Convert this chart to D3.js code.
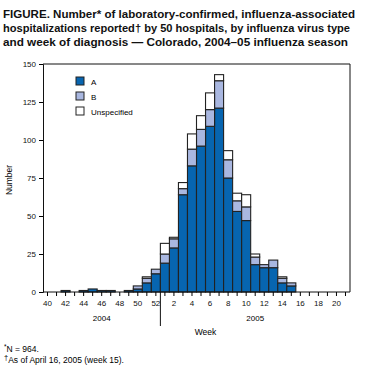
<!DOCTYPE html>
<html><head><meta charset="utf-8">
<script src="https://cdn.jsdelivr.net/npm/d3@7"></script>
<style>body{margin:0;background:#fff}svg{display:block}text{font-family:"Liberation Sans",Arial,sans-serif}</style>
</head><body><svg id="c" width="365" height="382"></svg>
<script>
const weeks = [40,41,42,43,44,45,46,47,48,49,50,51,52,1,2,3,4,5,6,7,8,9,10,11,12,13,14,15,16,17,18,19,20,21];
const typeA = [0,0,1,0,1,2,1,1,0,1,2,6,12,19,29,64,83,96,109,121,75,53,47,18,16,16,6,4,0,0,0,0,0,0];
const typeB = [0,0,0,0,0,0,0,0,0,0,2,3,3,6,6,4,11,11,11,18,12,7,9,5,2,5,3,2,0,0,0,0,0,0];
const typeU = [0,0,0,0,0,0,0,0,0,0,0,1,0,7,1,4,10,9,11,4,6,5,8,2,0,0,1,0,0,0,0,0,0,0];
const seriesNames = ["A","B","Unspecified"];
const colors = ["#0765b0","#a9b7e0","#ffffff"];
const yTicks = [0,25,50,75,100,125,150];
const xLabelWeeks = [40,42,44,46,48,50,52,2,4,6,8,10,12,14,16,18,20];
const titleLines = ["FIGURE. Number* of laboratory-confirmed, influenza-associated",
  "hospitalizations reported\u2020 by 50 hospitals, by influenza virus type",
  "and week of diagnosis \u2014 Colorado, 2004\u201305 influenza season"];

const svg = d3.select("#c");
const L = 43, R = 350, T = 64, B = 292;
const keys = weeks.map((w,i)=>i);
const x = d3.scaleBand().domain(keys).range([L,R]).padding(0);
const y = d3.scaleLinear().domain([0,150]).range([B,T]);

// title
const tl = svg.append("g");
titleLines.forEach((t,i)=>{
  tl.append("text").attr("x",3).attr("y",18+i*14).attr("font-size",11.5).attr("font-weight","bold")
    .attr("textLength", [352,347,345][i]).attr("lengthAdjust","spacingAndGlyphs").attr("fill","#111").text(t);
});

// data stacking
const rows = weeks.map((w,i)=>({i, A:typeA[i], B:typeB[i], Unspecified:typeU[i]}));
const stack = d3.stack().keys(seriesNames)(rows);
stack.forEach((s,si)=>{
  svg.append("g").selectAll("rect").data(s.filter(d=>d[1]-d[0]>0)).join("rect")
    .attr("x",d=>x(d.data.i)).attr("width",x.bandwidth())
    .attr("y",d=>y(d[1])).attr("height",d=>y(d[0])-y(d[1]))
    .attr("fill",colors[si]).attr("stroke","#222").attr("stroke-width",1.1);
});

// frame
svg.append("path").attr("d",`M${L},${T}H${R}V${B}`).attr("fill","none").attr("stroke","#111").attr("stroke-width",1);

// y axis
const ya = svg.append("g").attr("transform",`translate(${L},0)`)
  .call(d3.axisLeft(y).tickValues(yTicks).tickSize(4).tickPadding(3));
ya.select(".domain").attr("stroke","#111");
ya.selectAll("text").attr("font-size",8).attr("fill","#111");

// x axis
const xa = svg.append("g").attr("transform",`translate(0,${B})`)
  .call(d3.axisBottom(x).tickSize(4).tickPadding(4).tickFormat(i=> xLabelWeeks.includes(weeks[i]) ? weeks[i] : ""));
xa.select(".domain").attr("stroke","#111").attr("d",`M${L},0H${R}`);
xa.selectAll("text").attr("font-size",8).attr("fill","#111");

// year separator
const sepX = x(weeks.indexOf(1));
svg.append("line").attr("x1",sepX).attr("x2",sepX).attr("y1",B).attr("y2",326).attr("stroke","#111");
svg.append("text").attr("x",(x(0)+sepX)/2).attr("y",321).attr("text-anchor","middle").attr("font-size",8).text("2004");
svg.append("text").attr("x",(sepX+R)/2).attr("y",321).attr("text-anchor","middle").attr("font-size",8).text("2005");
svg.append("text").attr("x",(L+R)/2+9).attr("y",335).attr("text-anchor","middle").attr("font-size",8.5).text("Week");
svg.append("text").attr("transform",`translate(12,${(T+B)/2+2}) rotate(-90)`).attr("text-anchor","middle").attr("font-size",8.5).text("Number");

// legend
const lg = svg.append("g").attr("transform","translate(76,77)");
seriesNames.forEach((n,i)=>{
  lg.append("rect").attr("x",0).attr("y",i*15).attr("width",8).attr("height",8).attr("fill",colors[i]).attr("stroke","#222");
  lg.append("text").attr("x",15).attr("y",i*15+7.5).attr("font-size",8).text(n);
});

// footnotes
const fn = svg.append("g");
const f1 = fn.append("text").attr("x",4).attr("y",352).attr("font-size",8.5);
f1.append("tspan").attr("font-size",6.5).attr("dy",-3).text("*");
f1.append("tspan").attr("dy",3).text("N = 964.");
const f2 = fn.append("text").attr("x",4).attr("y",363).attr("font-size",8.5);
f2.append("tspan").attr("font-size",7.5).attr("dy",-3).text("\u2020");
f2.append("tspan").attr("dy",3).text("As of April 16, 2005 (week 15).");
</script></body></html>
